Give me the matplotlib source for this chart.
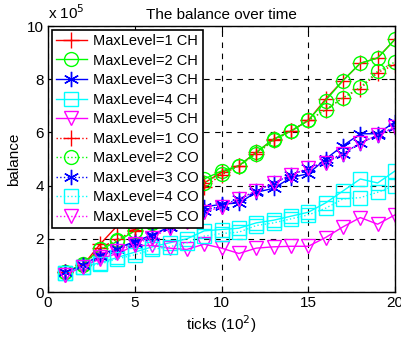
import matplotlib
matplotlib.use("Agg")
import matplotlib.pyplot as plt
import numpy as np

plt.rcParams['font.family'] = ['Liberation Sans', 'DejaVu Sans']

ticks = np.arange(1, 21)

# balance in units of 1e5
ch1 = [0.75, 1.0, 1.8, 2.5, 2.35, 2.7, 3.1, 3.6, 4.1, 4.5, 4.75, 5.25, 5.75, 6.05, 6.45, 7.25, 7.95, 8.6, 8.8, 9.5]
ch2 = [0.75, 1.05, 1.6, 1.9, 2.3, 2.65, 3.05, 3.55, 4.25, 4.55, 4.75, 5.25, 5.75, 6.05, 6.45, 7.2, 7.95, 8.6, 8.8, 9.5]
ch3 = [0.75, 1.0, 1.4, 1.65, 1.9, 2.15, 2.45, 2.75, 3.2, 3.3, 3.35, 3.75, 3.9, 4.3, 4.45, 5.0, 5.5, 5.95, 5.95, 6.4]
ch4 = [0.7, 0.95, 1.1, 1.3, 1.5, 1.7, 1.85, 2.0, 2.3, 2.35, 2.4, 2.6, 2.7, 2.85, 3.0, 3.35, 3.8, 4.25, 4.1, 4.55]
ch5 = [0.65, 0.95, 1.25, 1.45, 1.75, 1.75, 1.65, 1.6, 1.8, 1.65, 1.45, 1.65, 1.7, 1.72, 1.72, 2.05, 2.45, 2.8, 2.55, 2.9]
co1 = [0.75, 1.0, 1.65, 2.0, 2.3, 2.6, 3.0, 3.45, 3.95, 4.4, 4.75, 5.2, 5.7, 6.05, 6.45, 6.85, 7.3, 7.65, 8.25, 8.55]
co2 = [0.75, 1.0, 1.6, 1.95, 2.3, 2.6, 3.0, 3.5, 4.1, 4.45, 4.75, 5.2, 5.7, 6.05, 6.45, 6.85, 7.3, 7.7, 8.3, 8.65]
co3 = [0.75, 1.0, 1.35, 1.6, 1.85, 2.1, 2.45, 2.7, 3.05, 3.25, 3.5, 3.8, 4.1, 4.4, 4.65, 4.9, 5.2, 5.6, 5.9, 6.2]
co4 = [0.7, 0.95, 1.05, 1.25, 1.4, 1.6, 1.7, 1.85, 2.1, 2.2, 2.25, 2.5, 2.6, 2.75, 2.9, 3.15, 3.5, 3.55, 3.75, 4.0]
co5 = [0.65, 0.95, 1.3, 1.55, 1.8, 2.05, 2.4, 2.65, 3.0, 3.2, 3.5, 3.8, 4.1, 4.4, 4.65, 4.85, 5.2, 5.6, 5.9, 6.2]

series = [ch1, ch2, ch3, ch4, ch5, co1, co2, co3, co4, co5]
labels = ["MaxLevel=%d CH" % i for i in range(1, 6)] + ["MaxLevel=%d CO" % i for i in range(1, 6)]
colors = ["#ff0000", "#00ff00", "#0000ff", "#00ffff", "#ff00ff"] * 2
# (6, 2, 0) is an asterisk like matlab's '*'
markers = ["+", "o", (6, 2, 0), "s", "v"] * 2
sizes = [12, 10, 11, 10, 10] * 2
styles = ["-"] * 5 + [":"] * 5

fig = plt.figure(figsize=(4.01, 3.38), dpi=100)
ax = fig.add_axes([0.12, 0.136, 0.865, 0.787])

for y, lab, c, m, ms, ls in zip(series, labels, colors, markers, sizes, styles):
    ax.plot(ticks, y, color=c, marker=m, linestyle=ls, label=lab,
            markersize=ms, markerfacecolor="none",
            markeredgewidth=1.0, linewidth=1.0)

ax.set_xlim(0, 20)
ax.set_ylim(0, 10)
ax.set_xticks([0, 5, 10, 15, 20])
ax.set_yticks([0, 2, 4, 6, 8, 10])
ax.grid(True, color="black", linestyle=(0, (5, 5)), linewidth=0.8)
ax.tick_params(direction="in", top=True, right=True, labelsize=11, length=4, pad=3)
for sp in ax.spines.values():
    sp.set_linewidth(1.0)

ax.text(0.0, 1.015, r"x 10$^5$", transform=ax.transAxes, fontsize=11,
        ha="left", va="bottom")
ax.set_title("The balance over time", fontsize=11, pad=5)
ax.set_xlabel("ticks (10$^2$)", fontsize=11, labelpad=2)
ax.set_ylabel("balance", fontsize=11, labelpad=4)

leg = ax.legend(loc="upper left", fontsize=10.5, fancybox=False, framealpha=1,
                edgecolor="black", handlelength=2.1, labelspacing=0.38,
                borderaxespad=0.25, borderpad=0.3, handletextpad=0.4)
leg.get_frame().set_linewidth(1.2)

fig.savefig("out.png", dpi=100)
